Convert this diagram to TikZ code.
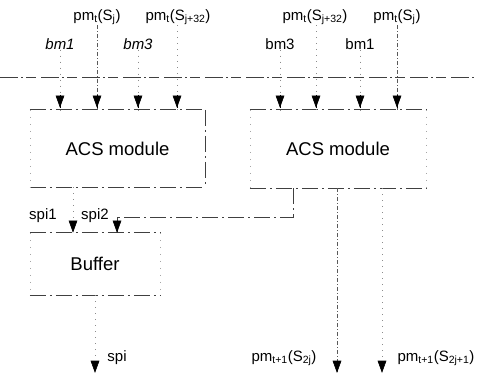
\documentclass[tikz,border=0pt]{standalone}
\usepackage{fontspec}
\setmainfont{Liberation Sans}
\usetikzlibrary{arrows.meta}
\begin{document}
\begin{tikzpicture}[x=1pt,y=-1pt,
  lbl/.style={font=\fontsize{15}{17}\selectfont, inner sep=0pt},
  modbox/.style={inner sep=0pt, font=\fontsize{18.5}{20}\selectfont},
  boxline/.style={draw=black!75, line width=0.8pt, dash pattern=on 16pt off 4pt on 2pt off 4pt},
  boxfaint/.style={draw=black!35, line width=0.5pt, dash pattern=on 1pt off 6pt},
  bus/.style={black!75, line width=0.8pt, dash pattern=on 18pt off 3pt on 2pt off 3pt on 10pt off 5pt},
  headfill/.style={fill=black, draw=black, line width=0.6pt, line join=miter},
  sig/.style={black!45, line width=0.6pt, dash pattern=on 1pt off 5pt},
  sigstrong/.style={black!65, line width=0.7pt, dash pattern=on 4pt off 2pt on 1pt off 2pt},
]
\useasboundingbox (0,0) rectangle (477,376);

% modules
\node[modbox, minimum width=175pt, minimum height=77pt] (acsL) at (117.5,148.5) {ACS module};
\node[modbox, minimum width=176pt, minimum height=78pt] (acsR) at (338,149) {ACS module};
\node[modbox, minimum width=130pt, minimum height=62pt] (buf) at (95,264) {Buffer};

\foreach \b in {acsL,acsR,buf}{
  \draw[boxline] (\b.north west) -- (\b.north east);
  \draw[boxline] (\b.south west) -- (\b.south east);
  \draw[boxfaint] (\b.north west) -- (\b.south west);
}
\draw[boxline] (acsL.north east) -- (acsL.south east);
\draw[boxfaint] (acsR.north east) -- (acsR.south east);
\draw[boxfaint] (buf.north east) -- (buf.south east);

% bus
\coordinate (busW) at (0,77);
\coordinate (busE) at (477,77);
\draw[bus] (busW) -- (busE);

% top labels, left module
\node[lbl] (pmSjL) at (97,17) {pm\textsubscript{t}(S\textsubscript{j})};
\node[lbl] (pmSjjL) at (178,17) {pm\textsubscript{t}(S\textsubscript{j+32})};
\node[lbl, font=\fontsize{15}{17}\selectfont\itshape] (bmoneL) at (60,44) {bm1};
\node[lbl, font=\fontsize{15}{17}\selectfont\itshape] (bmthreeL) at (138,44) {bm3};

% top labels, right module
\node[lbl] (pmSjjR) at (315,17) {pm\textsubscript{t}(S\textsubscript{j+32})};
\node[lbl] (pmSjR) at (397,17) {pm\textsubscript{t}(S\textsubscript{j})};
\node[lbl] (bmthreeR) at (280,44) {bm3};
\node[lbl] (bmoneR) at (360,44) {bm1};

% arrow end points on module tops
\coordinate (t1) at (bmoneL.south |- acsL.north);
\coordinate (t2) at (pmSjL.south |- acsL.north);
\coordinate (t3) at (bmthreeL.south |- acsL.north);
\coordinate (t4) at ([xshift=-1pt]pmSjjL.south |- acsL.north);
\coordinate (t5) at (bmthreeR.south |- acsR.north);
\coordinate (t6) at ([xshift=1pt]pmSjjR.south |- acsR.north);
\coordinate (t7) at (bmoneR.south |- acsR.north);
\coordinate (t8) at (pmSjR.south |- acsR.north);

% inputs into modules
\draw[sig] (bmoneL.south) -- (t1);
\draw[sigstrong] (pmSjL.south) -- (t2);
\draw[sig] (bmthreeL.south) -- (t3);
\draw[sig] ([xshift=-1pt]pmSjjL.south) -- (t4);
\draw[sig] (bmthreeR.south) -- (t5);
\draw[sig] ([xshift=1pt]pmSjjR.south) -- (t6);
\draw[sig] (bmoneR.south) -- (t7);
\draw[sigstrong] (pmSjR.south) -- (t8);
\foreach \t in {t1,t2,t3,t4,t5,t6,t7,t8}{
  \draw[black, line width=0.8pt] ([yshift=15pt]\t) -- ([yshift=2pt]\t);
  \filldraw[headfill] ([yshift=3pt]\t) -- ++(-4,-11) -- ++(8,0) -- cycle;
}

% spi1 / spi2
\node[lbl] (spione) at (43,216) {spi1};
\node[lbl] (spitwo) at (95,216) {spi2};
\coordinate (sA) at (73,200);
\coordinate (tA) at (sA |- buf.north);
\draw[sig] (acsL.south -| sA) -- (tA);
\coordinate (jR) at (293,217);
\coordinate (sB) at (117,217);
\coordinate (tB) at (sB |- buf.north);
\draw[boxline] (acsR.south -| jR) -- (jR) -- (sB);
\draw[black!75, line width=0.8pt] (sB) -- (tB);
\foreach \t in {tA,tB}
  \filldraw[headfill] ([yshift=1pt]\t) -- ++(-4,-11) -- ++(8,0) -- cycle;

% outputs
\coordinate (oA) at (95,372);
\coordinate (oB) at (337,372);
\coordinate (oC) at (382,372);
\draw[sig] (buf.south -| oA) -- (oA);
\draw[sigstrong] (acsR.south -| oB) -- (oB);
\draw[sig] (acsR.south -| oC) -- (oC);
\foreach \t in {oA,oB,oC}
  \filldraw[headfill] (\t) -- ++(-4,-11) -- ++(8,0) -- cycle;
\node[lbl] (spiout) at (117,358) {spi};
\node[lbl] (pmA) at (284,358) {pm\textsubscript{t+1}(S\textsubscript{2j})};
\node[lbl] (pmB) at (436,358) {pm\textsubscript{t+1}(S\textsubscript{2j+1})};
\end{tikzpicture}
\end{document}
